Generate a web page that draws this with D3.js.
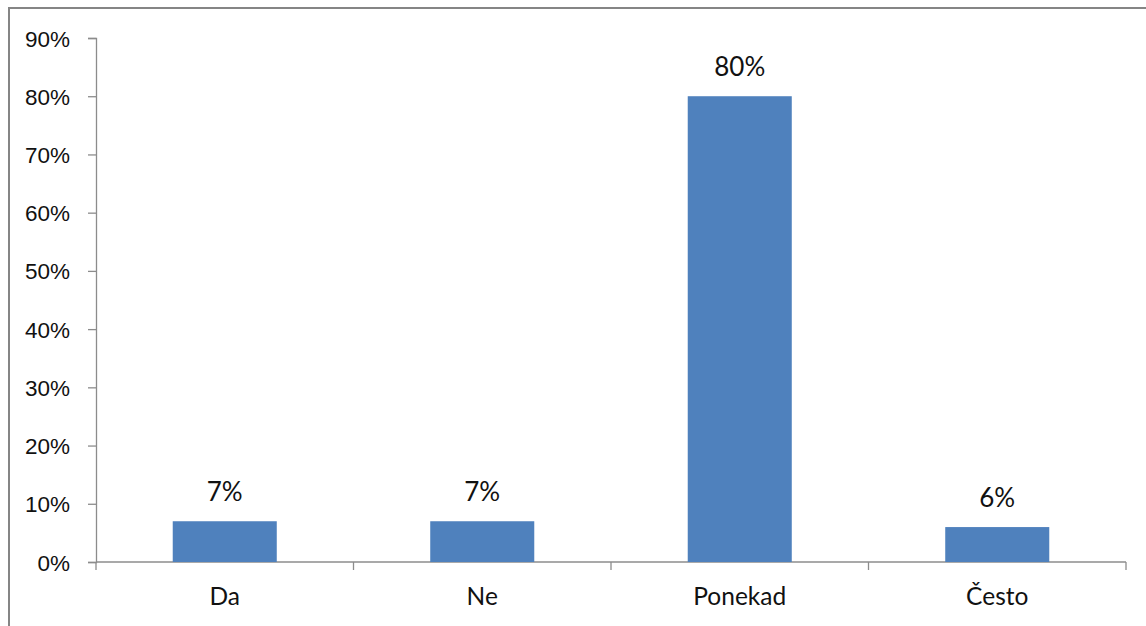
<!DOCTYPE html>
<html>
<head>
<meta charset="utf-8">
<script src="https://cdn.jsdelivr.net/npm/d3@7"></script>
<style>
  html, body { margin: 0; padding: 0; background: #fff; }
  svg { display: block; font-family: Lato, "Open Sans", sans-serif; }
</style>
</head>
<body>
<svg id="chart" width="1146" height="626"></svg>
<script>
// Survey answers and their shares (percent)
const categories = ["Da", "Ne", "Ponekad", "Često"];
const shares = [7, 7, 80, 6];
const tickValues = [0, 10, 20, 30, 40, 50, 60, 70, 80, 90];

const svg = d3.select("#chart");
const W = 1146, H = 626;
const plot = { left: 96, right: 1126, top: 38, bottom: 562 };

// Chart frame
svg.append("rect")
  .attr("x", 9).attr("y", 8)
  .attr("width", W + 20).attr("height", H + 20)
  .attr("fill", "#fff")
  .attr("stroke", "#858585")
  .attr("stroke-width", 2);

const x = d3.scaleBand()
  .domain(categories)
  .range([plot.left, plot.right])
  .padding(0);

const y = d3.scaleLinear()
  .domain([0, 90])
  .range([plot.bottom, plot.top]);

const barFrac = 0.404;
const axisColor = "#8c8c8c";
const textColor = "#111";

// Y axis
const yAxis = svg.append("g")
  .attr("transform", `translate(${plot.left},0)`)
  .call(d3.axisLeft(y).tickValues(tickValues).tickSize(8).tickPadding(18)
    .tickFormat(d => d + "%"));
yAxis.select(".domain").attr("stroke", axisColor).attr("stroke-width", 1.3);
yAxis.selectAll(".tick line").attr("stroke", axisColor).attr("stroke-width", 1.3);
yAxis.selectAll(".tick text")
  .attr("fill", textColor)
  .style("font-size", "22.5px")
  .attr("dy", "0.36em");

// X axis: baseline with tick marks on category boundaries
const xg = svg.append("g");
xg.append("line")
  .attr("x1", plot.left).attr("x2", plot.right)
  .attr("y1", y(0)).attr("y2", y(0))
  .attr("stroke", axisColor).attr("stroke-width", 1.3);
const bounds = categories.map(c => x(c)).concat([x(categories[categories.length - 1]) + x.bandwidth()]);
xg.selectAll(".bt").data(bounds).join("line")
  .attr("x1", d => d).attr("x2", d => d)
  .attr("y1", y(0)).attr("y2", y(0) + 8)
  .attr("stroke", axisColor).attr("stroke-width", 1.3);
xg.selectAll(".cat").data(categories).join("text")
  .attr("x", d => x(d) + x.bandwidth() / 2)
  .attr("y", 605)
  .attr("text-anchor", "middle")
  .attr("fill", textColor)
  .style("font-size", "24.5px")
  .text(d => d);

// Bars
const bw = x.bandwidth() * barFrac;
svg.selectAll(".bar").data(categories).join("rect")
  .attr("x", (d) => x(d) + (x.bandwidth() - bw) / 2)
  .attr("width", bw)
  .attr("y", (d, i) => y(shares[i]))
  .attr("height", (d, i) => y(0) - y(shares[i]))
  .attr("fill", "#4f81bd");

// Value labels
svg.selectAll(".val").data(categories).join("text")
  .attr("x", d => x(d) + x.bandwidth() / 2)
  .attr("y", (d, i) => y(shares[i]) - 20)
  .attr("text-anchor", "middle")
  .attr("fill", textColor)
  .style("font-size", "26px")
  .text((d, i) => shares[i] + "%");
</script>
</body>
</html>
